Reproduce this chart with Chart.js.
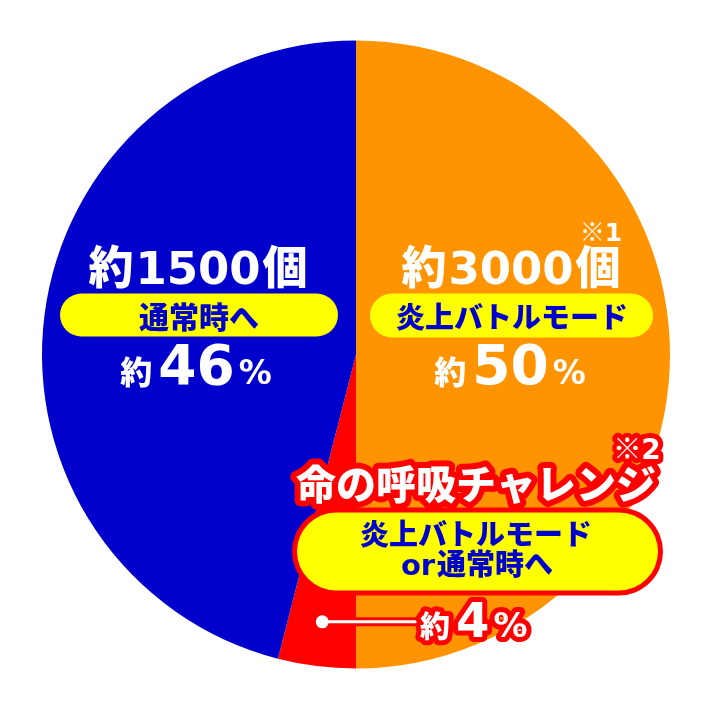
<!DOCTYPE html>
<html>
<head>
<meta charset="utf-8">
<script src="https://cdn.jsdelivr.net/npm/chart.js@4"></script>
<style>
html,body{margin:0;padding:0;background:#fff;}
canvas{display:block;}
</style>
</head>
<body>
<canvas id="c" width="712" height="710"></canvas>
<script>
// ---- data ----
const categories = ['炎上バトルモード', '命の呼吸チャレンジ', '通常時へ'];
const values = [50, 4, 46];
const counts = ['3000', null, '1500'];
const percentLabels = ['50', '4', '46'];
const colors = ['#FF9400', '#FF0000', '#0000CD'];
const subLines = ['炎上バトルモード', 'or通常時へ'];
const notes = ['※1', '※2'];

const CJK = '"Noto Sans CJK JP", "Noto Sans CJK SC", sans-serif';
const NUM = '"DejaVu Sans", "Noto Sans CJK JP", sans-serif';
const TEXT_BLUE = '#0000CC';
const YELLOW = '#FFFF00';

function runsWidth(ctx, runs) {
  let w = 0;
  runs.forEach(r => { ctx.font = r.font; w += ctx.measureText(r.text).width + (r.gap || 0); });
  return w;
}
function drawRuns(ctx, runs, cx, baseline, fill, stroke, lw, alignLeft) {
  const total = runsWidth(ctx, runs);
  let x = alignLeft ? cx : cx - total / 2;
  ctx.textBaseline = 'alphabetic';
  ctx.textAlign = 'left';
  ctx.lineJoin = 'round';
  const pos = [];
  runs.forEach(r => {
    ctx.font = r.font;
    pos.push(x);
    x += ctx.measureText(r.text).width + (r.gap || 0);
  });
  if (stroke) {
    ctx.strokeStyle = stroke; ctx.lineWidth = lw;
    runs.forEach((r, i) => { ctx.font = r.font; ctx.strokeText(r.text, pos[i], baseline + (r.dy || 0)); });
  }
  ctx.fillStyle = fill;
  runs.forEach((r, i) => { ctx.font = r.font; ctx.fillText(r.text, pos[i], baseline + (r.dy || 0)); });
}
function pill(ctx, x1, y1, x2, y2, color) {
  const r = (y2 - y1) / 2;
  ctx.beginPath();
  ctx.moveTo(x1 + r, y1);
  ctx.lineTo(x2 - r, y1);
  ctx.arc(x2 - r, y1 + r, r, -Math.PI / 2, Math.PI / 2);
  ctx.lineTo(x1 + r, y2);
  ctx.arc(x1 + r, y1 + r, r, Math.PI / 2, Math.PI * 1.5);
  ctx.closePath();
  ctx.fillStyle = color;
  ctx.fill();
}

const labelPlugin = {
  id: 'labels',
  afterDraw(chart) {
    const ctx = chart.ctx;
    const arcs = chart.getDatasetMeta(0).data;
    const cx = arcs[0].x, cy = arcs[0].y;
    ctx.save();

    // ---- right (orange) ----
    const rx = cx + 155;
    drawRuns(ctx, [{text: notes[0].charAt(0), font: `900 25px ${CJK}`}, {text: notes[0].slice(1), font: `bold 25px ${NUM}`}], cx + 245, cy - 114, '#fff');
    drawRuns(ctx, [
      {text: '約', font: `900 45px ${CJK}`, gap: 2},
      {text: counts[0], font: `bold 45px ${NUM}`, gap: 2},
      {text: '個', font: `900 45px ${CJK}`}
    ], rx, cy - 71, '#fff');
    pill(ctx, cx + 14, cy - 61, cx + 297, cy - 17, YELLOW);
    drawRuns(ctx, [{text: categories[0], font: `900 29px ${CJK}`}], cx + 156, cy - 27, TEXT_BLUE);
    drawRuns(ctx, [
      {text: '約', font: `900 32px ${CJK}`, gap: 6},
      {text: percentLabels[0], font: `bold 55px ${NUM}`, gap: 4},
      {text: '%', font: `bold 33px ${NUM}`}
    ], cx + 154, cy + 29, '#fff');

    // ---- left (blue) ----
    const lx = cx - 158;
    drawRuns(ctx, [
      {text: '約', font: `900 45px ${CJK}`, gap: 2},
      {text: counts[2], font: `bold 45px ${NUM}`, gap: 2},
      {text: '個', font: `900 45px ${CJK}`}
    ], lx, cy - 71, '#fff');
    pill(ctx, cx - 296, cy - 61, cx - 18, cy - 18, YELLOW);
    drawRuns(ctx, [{text: categories[2], font: `900 30px ${CJK}`}], cx - 157, cy - 27, TEXT_BLUE);
    drawRuns(ctx, [
      {text: '約', font: `900 32px ${CJK}`, gap: 6},
      {text: percentLabels[2], font: `bold 55px ${NUM}`, gap: 4},
      {text: '%', font: `bold 33px ${NUM}`}
    ], cx - 160, cy + 29, '#fff');

    // ---- bottom (red slice callout) ----
    const red = arcs[1];
    const p = red.getProps(['startAngle', 'endAngle', 'outerRadius', 'x', 'y'], true);
    const mid = (p.startAngle + p.endAngle) / 2;
    const dotX = p.x + Math.cos(mid) * p.outerRadius * 0.858;
    const dotY = p.y + Math.sin(mid) * p.outerRadius * 0.858;

    // note ※2
    drawRuns(ctx, [{text: notes[1].charAt(0), font: `900 28px ${CJK}`}, {text: notes[1].slice(1), font: `bold 28px ${NUM}`}], cx + 281, cy + 104, '#fff', '#FF0000', 10);
    // title
    drawRuns(ctx, [{text: categories[1], font: `900 40px ${CJK}`}], cx + 120, cy + 144, '#fff', '#FF0000', 12);
    // bordered pill
    pill(ctx, cx - 64, cy + 153, cx + 307, cy + 241, '#FF0000');
    pill(ctx, cx - 59, cy + 158, cx + 302, cy + 236, YELLOW);
    drawRuns(ctx, [{text: subLines[0], font: `900 29px ${CJK}`}], cx + 120, cy + 190, TEXT_BLUE);
    drawRuns(ctx, [
      {text: 'or', font: `bold 29px ${NUM}`, gap: 2},
      {text: subLines[1].slice(2), font: `900 29px ${CJK}`}
    ], cx + 121, cy + 220, TEXT_BLUE);

    // leader line
    const lineEnd = cx + 62;
    ctx.lineCap = 'round';
    ctx.strokeStyle = '#FF0000'; ctx.lineWidth = 9;
    ctx.beginPath(); ctx.moveTo(dotX, dotY); ctx.lineTo(lineEnd, dotY); ctx.stroke();
    ctx.strokeStyle = '#fff'; ctx.lineWidth = 3;
    ctx.beginPath(); ctx.moveTo(dotX, dotY); ctx.lineTo(lineEnd, dotY); ctx.stroke();
    ctx.fillStyle = '#fff';
    ctx.beginPath(); ctx.arc(dotX, dotY, 6.5, 0, Math.PI * 2); ctx.fill();

    drawRuns(ctx, [
      {text: '約', font: `900 30px ${CJK}`, gap: 6},
      {text: percentLabels[1], font: `bold 48px ${NUM}`, gap: 4},
      {text: '%', font: `bold 34px ${NUM}`}
    ], lineEnd + 2, cy + 282, '#fff', '#FF0000', 10, true);

    ctx.restore();
  }
};

new Chart(document.getElementById('c'), {
  type: 'pie',
  data: {
    labels: categories,
    datasets: [{ data: values, backgroundColor: colors, borderWidth: 0 }]
  },
  options: {
    responsive: false,
    animation: false,
    layout: { padding: { left: 42, right: 42, top: 40, bottom: 41 } },
    plugins: { legend: { display: false }, tooltip: { enabled: false } }
  },
  plugins: [labelPlugin]
});
</script>
</body>
</html>
